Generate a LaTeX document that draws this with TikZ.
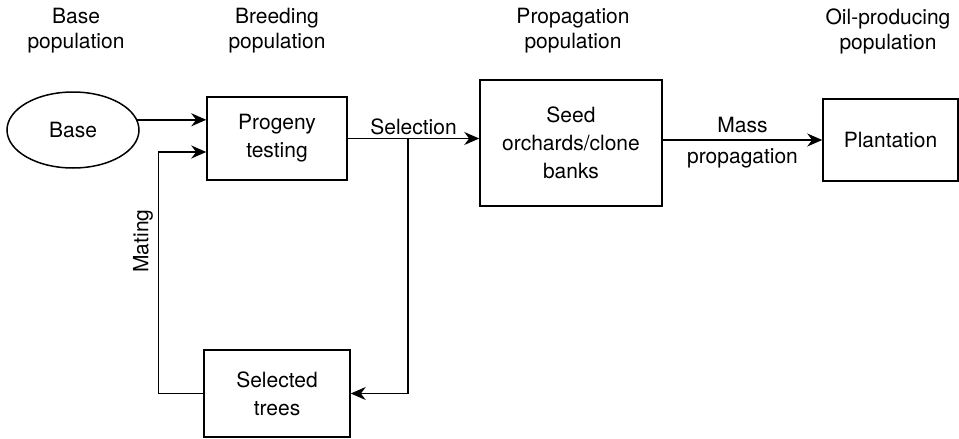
\documentclass[tikz,border=0pt]{standalone}
\usepackage{fontspec}
\setmainfont{TeX Gyre Heros}
\usetikzlibrary{shapes.geometric,arrows.meta,calc}
\begin{document}
\begin{tikzpicture}[x=1pt,y=-1pt,
    every node/.style={font=\fontsize{21}{25}\selectfont},
    box/.style={draw,line width=1.5pt,rectangle,inner sep=0pt,align=center,font=\fontsize{21}{28}\selectfont},
    arr/.style={line width=1.5pt,-{Stealth[length=15pt,width=13pt]}},
    wire/.style={line width=1.5pt}]
    \useasboundingbox (0,0) rectangle (959,439);
    % column titles
    \node[align=center] (tbase) at (76,31) {Base\\population};
    \node[align=center] (tbreed) at (277,31) {Breeding\\population};
    \node[align=center] (tprop) at (573,31) {Propagation\\population};
    \node[align=center] (toil) at (888,31) {Oil-producing\\population};
    % the populations
    \node[draw,ellipse,line width=1.5pt,inner sep=0pt,minimum width=132,minimum height=76] (base) at (73,130) {Base};
    \node[box,minimum width=140,minimum height=83] (prog) at (277,138.5) {Progeny\\testing};
    \node[box,minimum width=146,minimum height=87] (sel) at (277,393.5) {Selected\\trees};
    \node[box,minimum width=182,minimum height=126] (seed) at (571,143) {Seed\\orchards/clone\\banks};
    \node[box,minimum width=135,minimum height=82] (plant) at (890.5,140) {Plantation};
    \coordinate (split) at (408,138.5);
    \coordinate (matein) at ($(prog.west)+(0,13.5)$);
    % connectors
    \draw[arr] (base.9) -- (base.9 -| prog.west);
    \draw[arr] (prog.east) -- (seed.west |- prog.east) node[midway,above] {Selection};
    \draw[arr] (split) |- (sel.east);
    \draw[wire] (sel.west) -- ++(-45,0) coordinate (mbot);
    \draw[arr] (mbot) |- (matein);
    \node[rotate=90] (mating) at (143,241) {Mating};
    \draw[arr] (seed.east |- plant.west) -- (plant.west) node[midway,above=3pt] {Mass} node[midway,below=5pt] {propagation};
\end{tikzpicture}
\end{document}
